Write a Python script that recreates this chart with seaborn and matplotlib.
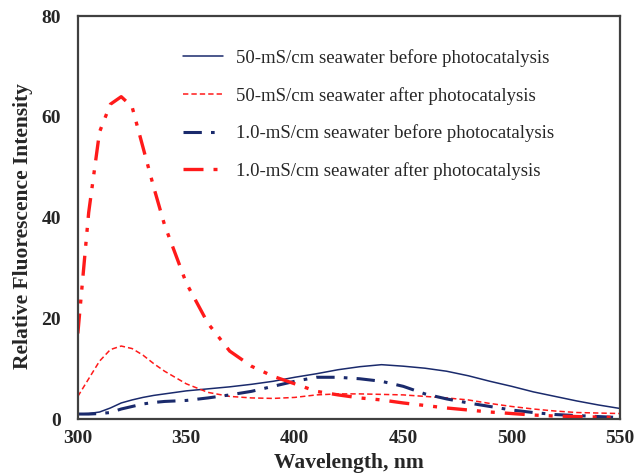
import matplotlib
matplotlib.use("Agg")
import matplotlib.pyplot as plt
import seaborn as sns
import pandas as pd

wavelength = [300, 305, 310, 315, 320, 325, 330, 335, 340, 350, 360, 370, 380, 390, 400,
              410, 420, 430, 440, 450, 460, 470, 480, 490, 500, 510, 520, 530, 540, 550]

sw50_before = [1.0, 1.1, 1.4, 2.2, 3.2, 3.8, 4.3, 4.7, 5.0, 5.6, 6.0, 6.4, 6.9, 7.5, 8.3,
               9.0, 9.8, 10.4, 10.8, 10.5, 10.1, 9.5, 8.6, 7.5, 6.5, 5.4, 4.5, 3.6, 2.8, 2.1]
sw50_after = [4.5, 8.0, 11.5, 13.8, 14.5, 14.0, 12.7, 11.0, 9.5, 7.0, 5.3, 4.5, 4.2, 4.1, 4.3,
              4.8, 5.0, 5.0, 4.9, 4.8, 4.5, 4.2, 3.8, 3.1, 2.5, 2.0, 1.6, 1.3, 1.2, 1.1]
sw1_before = [1.0, 1.0, 1.1, 1.3, 2.0, 2.5, 3.0, 3.3, 3.5, 3.7, 4.2, 4.8, 5.5, 6.5, 7.5,
              8.3, 8.3, 8.0, 7.5, 6.5, 5.0, 4.0, 3.2, 2.5, 1.8, 1.3, 0.9, 0.7, 0.5, 0.3]
sw1_after = [17.0, 41.0, 57.0, 62.5, 64.0, 62.0, 54.0, 46.0, 38.5, 27.0, 19.0, 13.5, 10.5, 8.5, 7.0,
             5.5, 4.8, 4.2, 3.8, 3.2, 2.7, 2.2, 1.8, 1.4, 1.1, 0.8, 0.6, 0.5, 0.4, 0.3]

labels = ["50-mS/cm seawater before photocatalysis",
          "50-mS/cm seawater after photocatalysis",
          "1.0-mS/cm seawater before photocatalysis",
          "1.0-mS/cm seawater after photocatalysis"]
series = [sw50_before, sw50_after, sw1_before, sw1_after]

x_ticks = [300, 350, 400, 450, 500, 550]
y_ticks = [0, 20, 40, 60, 80]

sns.set_theme(style="white")
plt.rcParams['font.family'] = ['Liberation Serif', 'DejaVu Serif']

fig = plt.figure(figsize=(6.38, 4.73), dpi=100)
ax = fig.add_axes([0.122, 0.114, 0.850, 0.852])

navy = "#1a2a6c"
red = "#ff1a1a"
styles = [
    dict(color=navy, lw=1.1, ls="-"),
    dict(color=red, lw=1.1, ls=(0, (3.5, 2.0))),
    dict(color=navy, lw=2.2, ls=(0, (6, 3, 1.2, 3))),
    dict(color=red, lw=2.4, ls=(0, (6, 3, 1.2, 3, 1.2, 3))),
]

for vals, lab, st in zip(series, labels, styles):
    df = pd.DataFrame({"Wavelength": wavelength, "Intensity": vals})
    sns.lineplot(data=df, x="Wavelength", y="Intensity", ax=ax, label=lab,
                 color=st["color"], linewidth=st["lw"], linestyle=st["ls"])

ax.set_xlim(300, 550)
ax.set_ylim(0, 80)
ax.set_xticks(x_ticks)
ax.set_yticks(y_ticks)
ax.set_xticklabels([str(t) for t in x_ticks], fontweight="bold", fontsize=14)
ax.set_yticklabels([str(t) for t in y_ticks], fontweight="bold", fontsize=14)
ax.tick_params(axis="x", direction="in", length=5, width=1.3, color="#404040", pad=8)
ax.tick_params(axis="y", direction="in", length=5, width=1.3, color="#404040", pad=12)
ax.set_xlabel("Wavelength, nm", fontweight="bold", fontsize=15.5, labelpad=4)
ax.set_ylabel("Relative Fluorescence Intensity", fontweight="bold", fontsize=15.5)
ax.yaxis.set_label_coords(-0.083, 0.479)
for sp in ax.spines.values():
    sp.set_color("#404040")
    sp.set_linewidth(1.6)

leg = ax.legend(loc="upper left", bbox_to_anchor=(0.163, 0.96), frameon=False,
                fontsize=13.5, labelspacing=1.05, handlelength=2.15, handletextpad=0.65)

fig.savefig("out.png", dpi=100)
